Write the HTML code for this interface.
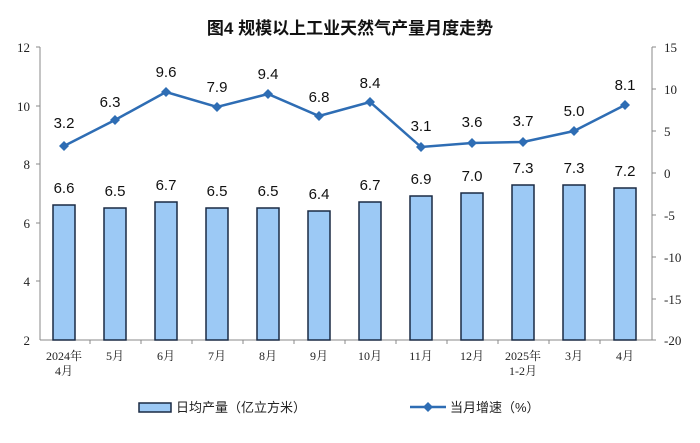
<!DOCTYPE html><html><head><meta charset="utf-8"><style>body{margin:0;background:#fff}</style></head><body>
<svg width="700" height="438" xmlns="http://www.w3.org/2000/svg" font-family="Liberation Sans, Noto Sans CJK SC, sans-serif">
<text x="350" y="34" text-anchor="middle" font-size="17" font-weight="bold" fill="#111">图4  规模以上工业天然气产量月度走势</text>
<g stroke="#888" stroke-width="1" fill="none">
<line x1="40" y1="47" x2="40" y2="340"/><line x1="40" y1="340" x2="652" y2="340"/><line x1="652" y1="47" x2="652" y2="340"/>
<path d="M36 47H40M36 106H40M36 164H40M36 223H40M36 281H40"/>
<path d="M652 47H656M652 89H656M652 131H656M652 173H656M652 215H656M652 257H656M652 299H656M652 340H656"/>
<path d="M90 340v4M141 340v4M192 340v4M243 340v4M294 340v4M345 340v4M396 340v4M447 340v4M498 340v4M549 340v4M600 340v4"/>
</g>
<g font-family="Liberation Serif, Noto Serif CJK SC, serif" font-size="13" fill="#222">
<g text-anchor="end"><text x="30" y="52">12</text><text x="30" y="111">10</text><text x="30" y="169">8</text><text x="30" y="228">6</text><text x="30" y="286">4</text><text x="30" y="345">2</text></g>
<g text-anchor="start"><text x="664" y="52">15</text><text x="664" y="94">10</text><text x="664" y="136">5</text><text x="664" y="178">0</text><text x="664" y="220">-5</text><text x="664" y="262">-10</text><text x="664" y="304">-15</text><text x="664" y="345">-20</text></g>
<g text-anchor="middle" font-size="12"><text x="64" y="360">2024年</text><text x="64" y="375">4月</text><text x="115" y="360">5月</text><text x="166" y="360">6月</text><text x="217" y="360">7月</text><text x="268" y="360">8月</text><text x="319" y="360">9月</text><text x="370" y="360">10月</text><text x="421" y="360">11月</text><text x="472" y="360">12月</text><text x="523" y="360">2025年</text><text x="523" y="375">1-2月</text><text x="574" y="360">3月</text><text x="625" y="360">4月</text></g>
</g>
<g fill="#9cc9f5" stroke="#1a2a44" stroke-width="1.5">
<rect x="53" y="205" width="22" height="135"/><rect x="104" y="208" width="22" height="132"/><rect x="155" y="202" width="22" height="138"/><rect x="206" y="208" width="22" height="132"/><rect x="257" y="208" width="22" height="132"/><rect x="308" y="211" width="22" height="129"/><rect x="359" y="202" width="22" height="138"/><rect x="410" y="196" width="22" height="144"/><rect x="461" y="193" width="22" height="147"/><rect x="512" y="185" width="22" height="155"/><rect x="563" y="185" width="22" height="155"/><rect x="614" y="188" width="22" height="152"/>
</g>
<g font-size="15" text-anchor="middle" fill="#111">
<text x="64" y="193">6.6</text><text x="115" y="196">6.5</text><text x="166" y="190">6.7</text><text x="217" y="196">6.5</text><text x="268" y="196">6.5</text><text x="319" y="199">6.4</text><text x="370" y="190">6.7</text><text x="421" y="184">6.9</text><text x="472" y="181">7.0</text><text x="523" y="173">7.3</text><text x="574" y="173">7.3</text><text x="625" y="176">7.2</text>
</g>
<polyline fill="none" stroke="#2e6db4" stroke-width="2.5" points="64,146 115,120 166,92 217,107 268,94 319,116 370,102 421,147 472,143 523,142 574,131 625,105"/>
<g fill="#2e6db4">
<path d="M64 141l5 5-5 5-5-5z"/><path d="M115 115l5 5-5 5-5-5z"/><path d="M166 87l5 5-5 5-5-5z"/><path d="M217 102l5 5-5 5-5-5z"/><path d="M268 89l5 5-5 5-5-5z"/><path d="M319 111l5 5-5 5-5-5z"/><path d="M370 97l5 5-5 5-5-5z"/><path d="M421 142l5 5-5 5-5-5z"/><path d="M472 138l5 5-5 5-5-5z"/><path d="M523 137l5 5-5 5-5-5z"/><path d="M574 126l5 5-5 5-5-5z"/><path d="M625 100l5 5-5 5-5-5z"/>
</g>
<g font-size="15" text-anchor="middle" fill="#111">
<text x="64" y="128">3.2</text><text x="110" y="107">6.3</text><text x="166" y="77">9.6</text><text x="217" y="92">7.9</text><text x="268" y="79">9.4</text><text x="319" y="102">6.8</text><text x="370" y="88">8.4</text><text x="421" y="131">3.1</text><text x="472" y="127">3.6</text><text x="523" y="126">3.7</text><text x="574" y="116">5.0</text><text x="625" y="90">8.1</text>
</g>
<rect x="139" y="403" width="32" height="9" fill="#9cc9f5" stroke="#1a2a44" stroke-width="1.5"/>
<text x="176" y="412" font-size="13" fill="#222">日均产量（亿立方米）</text>
<line x1="410" y1="407" x2="446" y2="407" stroke="#2e6db4" stroke-width="2.5"/>
<path d="M428 402l5 5-5 5-5-5z" fill="#2e6db4"/>
<text x="450" y="412" font-size="13" fill="#222">当月增速（%）</text>
</svg>
</body></html>
